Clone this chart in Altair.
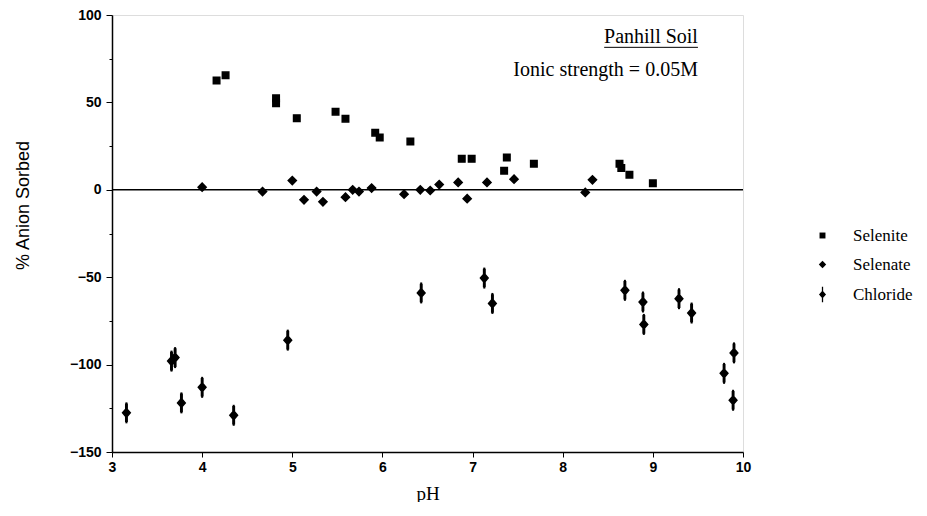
import altair as alt
import pandas as pd

selenite_ph = [4.16, 4.26, 4.82, 4.82, 5.05, 5.48, 5.59, 5.92, 5.97, 6.31, 6.88, 6.99, 7.35, 7.38, 7.68, 8.63, 8.65, 8.74, 9.0]
selenite_val = [62.5, 65.5, 52.4, 49.5, 41, 44.7, 40.7, 32.7, 29.9, 27.6, 17.7, 17.7, 10.9, 18.5, 14.9, 14.9, 12.5, 8.6, 3.8]

selenate_ph = [4.0, 4.67, 5.0, 5.13, 5.27, 5.34, 5.59, 5.67, 5.74, 5.88, 6.24, 6.42, 6.53, 6.63, 6.84, 6.94, 7.16, 7.46, 8.25, 8.33]
selenate_val = [1.5, -1, 5.3, -5.7, -1, -6.9, -4.2, 0, -1, 1, -2.5, 0, -0.4, 3, 4.2, -5.1, 4.2, 6.1, -1.5, 5.7]

chloride_ph = [3.16, 3.66, 3.70, 3.77, 4.0, 4.35, 4.95, 6.43, 7.13, 7.22, 8.69, 8.89, 8.9, 9.29, 9.43, 9.79, 9.9, 9.89]
chloride_val = [-127.6, -98, -96, -121.9, -113, -129, -86, -59, -50.5, -65, -57.5, -64.2, -77, -62.3, -70.5, -105, -93.3, -120.4]
chloride_err = 6

series_names = ["Selenite", "Selenate", "Chloride"]

rows = []
for p, v in zip(selenite_ph, selenite_val):
    rows.append({"pH": p, "val": v, "series": "Selenite"})
for p, v in zip(selenate_ph, selenate_val):
    rows.append({"pH": p, "val": v, "series": "Selenate"})
for p, v in zip(chloride_ph, chloride_val):
    rows.append({"pH": p, "val": v, "series": "Chloride", "lo": v - chloride_err, "hi": v + chloride_err})
df = pd.DataFrame(rows)

SQ = "M-0.8,-0.8H0.8V0.8H-0.8Z"
DM = "M0,-1L1,0L0,1L-1,0Z"
CL = "M0,-1.1L0.95,0L0,1.1L-0.95,0Z M-0.17,-2.1H0.17V2.1H-0.17Z"

x_scale = alt.Scale(domain=[3, 10], nice=False, zero=False)
y_scale = alt.Scale(domain=[-150, 100], nice=False, zero=False)

x_axis = alt.Axis(values=[3, 3.5, 4, 4.5, 5, 5.5, 6, 6.5, 7, 7.5, 8, 8.5, 9, 9.5, 10],
                  format="d",
                  labelExpr="datum.value % 1 === 0 ? datum.label : ''",
                  tickSize={"condition": {"test": "datum.value % 1 === 0", "value": 5}, "value": 3},
                  grid=False, labelFont="Liberation Sans", labelFontWeight="bold", labelFontSize=14,
                  labelColor="black", tickColor="black", domainColor="black", domainWidth=1.5,
                  labelPadding=3, labelFlush=False, title="pH", titleFont="Liberation Serif", titleFontSize=19,
                  titleFontWeight="normal", titleColor="black", titlePadding=10)
y_axis = alt.Axis(values=[-150, -125, -100, -75, -50, -25, 0, 25, 50, 75, 100],
                  format="d",
                  labelExpr="datum.value % 50 === 0 ? datum.label : ''",
                  tickSize={"condition": {"test": "datum.value % 50 === 0", "value": 6}, "value": 3},
                  grid=False, labelFont="Liberation Sans", labelFontWeight="bold", labelFontSize=14,
                  labelColor="black", tickColor="black", domainColor="black", domainWidth=1.5,
                  labelPadding=5, labelFlush=False, title="% Anion Sorbed", titleFont="Liberation Sans", titleFontSize=18,
                  titleFontWeight="normal", titleColor="black", titlePadding=37, titleY=190)

base = alt.Chart(df)

points = base.mark_point(filled=True, opacity=1, color="black", strokeWidth=1.5, stroke="black", size=66).encode(
    x=alt.X("pH:Q", scale=x_scale, axis=x_axis),
    y=alt.Y("val:Q", scale=y_scale, axis=y_axis),
    shape=alt.Shape("series:N", scale=alt.Scale(domain=series_names, range=[SQ, DM, CL]),
                    sort=series_names,
                    legend=alt.Legend(title=None, orient="none", legendX=702, legendY=212,
                                      labelFont="Liberation Serif", labelFontSize=17, labelColor="black",
                                      symbolFillColor="black", symbolStrokeColor="black",
                                      symbolStrokeWidth=1, symbolSize=55, rowPadding=11,
                                      labelOffset=22, labelLimit=200, padding=0)),
)

errbars = base.transform_filter(alt.datum.series == "Chloride").mark_rule(color="black", strokeWidth=2).encode(
    x="pH:Q", y="lo:Q", y2="hi:Q")

zero = alt.Chart(pd.DataFrame({"v": [0]})).mark_rule(color="black", strokeWidth=1.5).encode(y="v:Q")

ann_text = ["Panhill Soil", "Ionic strength = 0.05M"]
ann_x = [9.5, 9.5]
ann_y = [87.5, 68.6]
ann = alt.Chart(pd.DataFrame({"t": ann_text, "x": ann_x, "y": ann_y})).mark_text(
    align="right", baseline="middle", font="Liberation Serif", fontSize=20, color="black").encode(
    x="x:Q", y="y:Q", text="t:N")

ul = alt.Chart(pd.DataFrame({"x1": [8.46], "x2": [9.5], "y": [81.5]})).mark_rule(
    color="black", strokeWidth=1).encode(x="x1:Q", x2="x2:Q", y="y:Q")

chart = alt.layer(zero, errbars, points, ann, ul).properties(
    width=631, height=437,
    autosize=alt.AutoSizeParams(type="none"),
    padding={"left": 104, "top": 7, "right": 176, "bottom": 50},
).configure_view(stroke="black", strokeWidth=1.5).configure(background="white")

chart.save("out.html", embed_options={"renderer": "svg", "actions": False})
